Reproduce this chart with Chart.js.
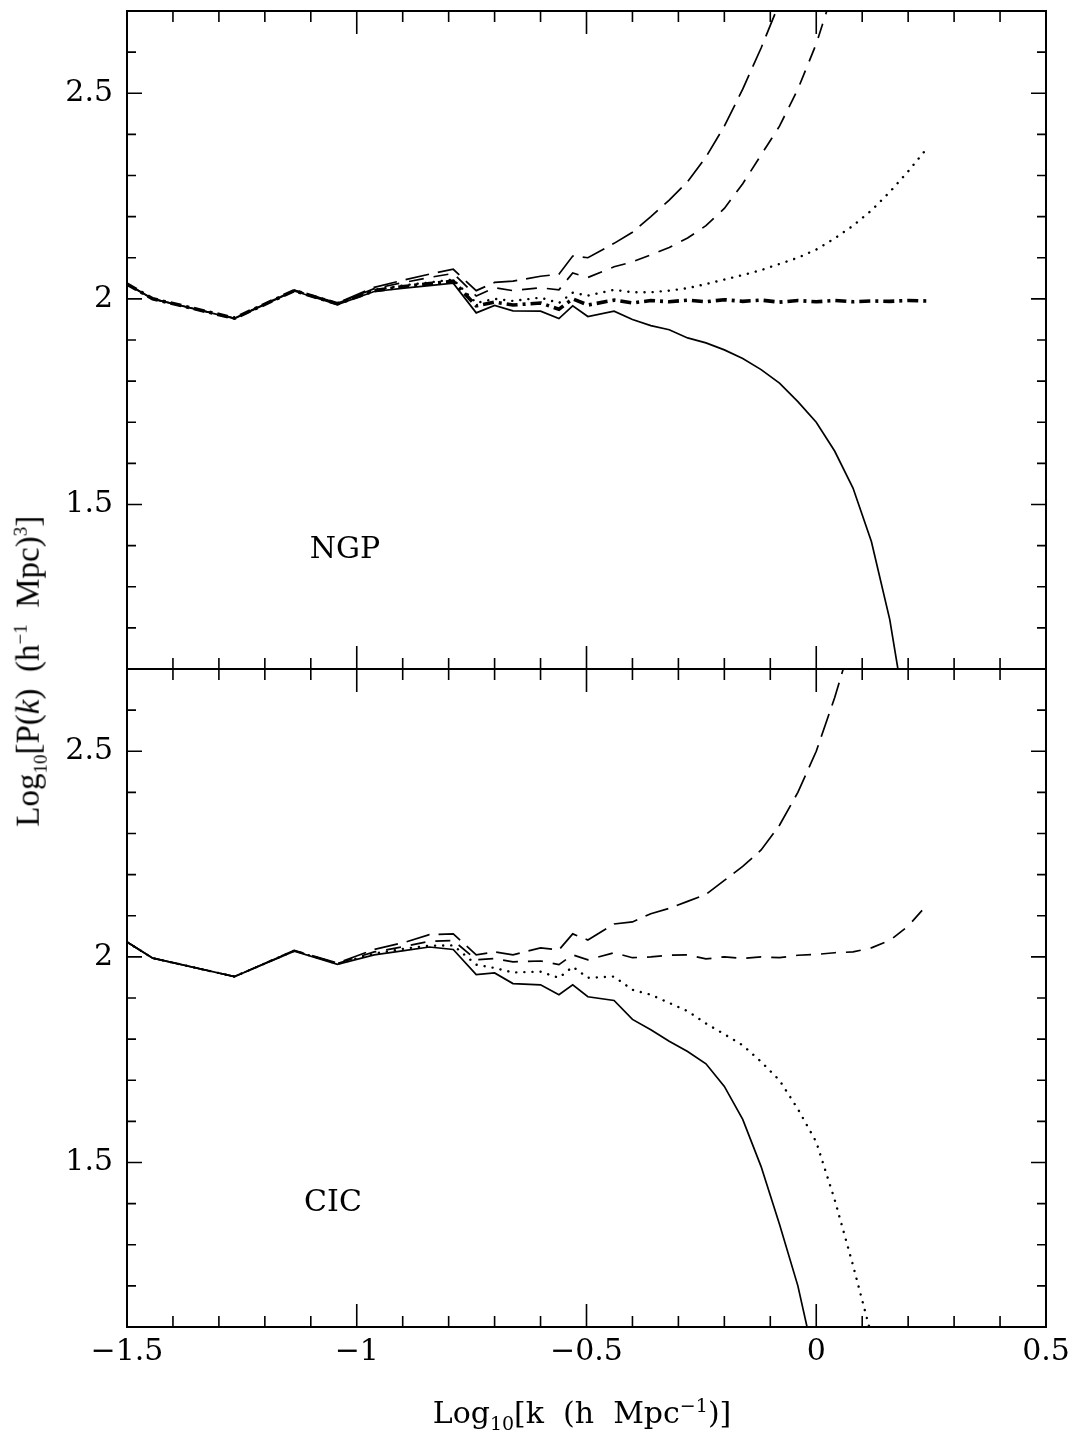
<!DOCTYPE html>
<html>
<head>
<meta charset="utf-8">
<script src="https://cdn.jsdelivr.net/npm/chart.js@4"></script>
<style>
  body { margin: 0; background: #fff; }
  #wrap { position: relative; width: 1075px; height: 1439px; overflow: hidden; font-family: "DejaVu Serif", serif; color: #000; }
  canvas { position: absolute; left: 0; }
  .lbl { position: absolute; font-size: 30px; white-space: nowrap; line-height: 1; }
  .lbl sub, .lbl sup { font-size: 19px; }
  #ytitle { left: -220px; width: 500px; top: 652px; text-align: center; transform: rotate(-90deg);
            font-family: "Liberation Serif", serif; font-size: 33px; }
</style>
</head>
<body>
<div id="wrap">
  <canvas id="top" width="1075" height="700" style="top:0"></canvas>
  <canvas id="bottom" width="1075" height="789" style="top:650px"></canvas>
  <div class="lbl" style="left:345px; top:548px; transform:translate(-50%,-50%)">NGP</div>
  <div class="lbl" style="left:333px; top:1201px; transform:translate(-50%,-50%)">CIC</div>
  <div class="lbl" id="ytitle">Log<sub>10</sub>[P(<i>k</i>)&nbsp; (h<sup>−1</sup>&nbsp; Mpc)<sup>3</sup>]</div>
  <div class="lbl" style="left:582px; top:1414px; transform:translate(-50%,-50%)">Log<sub>10</sub>[k&nbsp; (h&nbsp; Mpc<sup>−1</sup>)]</div>
</div>
<script>
// log10 k positions (shared by all curves)
const logK = [-1.5, -1.444, -1.266, -1.136, -1.042, -0.962, -0.897, -0.842, -0.79, -0.74,
  -0.70, -0.66, -0.60, -0.56, -0.53, -0.497, -0.44, -0.40, -0.36, -0.32,
  -0.28, -0.24, -0.20, -0.16, -0.12, -0.08, -0.04, 0.0, 0.04, 0.08,
  0.12, 0.16, 0.20, 0.24];

// NGP panel
const ngpSolid = [2.036, 2.000, 1.952, 2.019, 1.986, 2.018, 2.026, 2.032, 2.038, 1.966,
  1.984, 1.971, 1.970, 1.952, 1.983, 1.957, 1.970, 1.950, 1.935, 1.925,
  1.905, 1.893, 1.876, 1.855, 1.828, 1.795, 1.750, 1.700, 1.630, 1.540,
  1.410, 1.220, 0.950, null];
const ngpDotted = [2.036, 2.000, 1.953, 2.020, 1.988, 2.022, 2.033, 2.040, 2.047, 1.990,
  2.000, 1.995, 2.003, 1.990, 2.015, 2.008, 2.022, 2.016, 2.016, 2.020,
  2.026, 2.036, 2.047, 2.058, 2.070, 2.085, 2.100, 2.120, 2.147, 2.178,
  2.215, 2.260, 2.310, 2.365];
const ngpDashed = [2.036, 2.000, 1.953, 2.021, 1.989, 2.025, 2.040, 2.052, 2.062, 2.007,
  2.027, 2.020, 2.027, 2.022, 2.063, 2.052, 2.078, 2.090, 2.107, 2.125,
  2.148, 2.178, 2.220, 2.280, 2.350, 2.420, 2.510, 2.620, 2.760, null,
  null, null, null, null];
const ngpLongDashed = [2.036, 2.000, 1.953, 2.021, 1.990, 2.028, 2.046, 2.060, 2.072, 2.020,
  2.040, 2.043, 2.055, 2.060, 2.104, 2.100, 2.135, 2.162, 2.200, 2.240,
  2.285, 2.345, 2.420, 2.510, 2.610, 2.720, null, null, null, null,
  null, null, null, null];
const ngpDashDot = [2.036, 2.000, 1.953, 2.020, 1.988, 2.020, 2.030, 2.037, 2.043, 1.983,
  1.992, 1.985, 1.990, 1.975, 2.000, 1.985, 1.997, 1.990, 1.996, 1.993,
  1.997, 1.993, 1.998, 1.994, 1.997, 1.992, 1.996, 1.993, 1.996, 1.993,
  1.995, 1.994, 1.996, 1.995];

// CIC panel
const cicSolid = [2.036, 1.997, 1.952, 2.014, 1.982, 2.005, 2.015, 2.024, 2.018, 1.957,
  1.961, 1.935, 1.932, 1.908, 1.932, 1.903, 1.894, 1.848, 1.823, 1.795,
  1.770, 1.740, 1.685, 1.605, 1.490, 1.350, 1.200, 1.000, null, null,
  null, null, null, null];
const cicDotted = [2.036, 1.997, 1.952, 2.015, 1.983, 2.008, 2.020, 2.027, 2.028, 1.981,
  1.973, 1.962, 1.964, 1.949, 1.976, 1.949, 1.952, 1.920, 1.908, 1.888,
  1.868, 1.838, 1.812, 1.785, 1.745, 1.700, 1.630, 1.550, 1.410, 1.250,
  1.080, null, null, null];
const cicDashed = [2.036, 1.997, 1.952, 2.015, 1.984, 2.012, 2.025, 2.038, 2.040, 1.993,
  1.996, 1.988, 1.990, 1.981, 2.005, 1.993, 2.010, 1.998, 2.000, 2.004,
  2.005, 1.995, 2.000, 1.996, 2.000, 1.998, 2.004, 2.006, 2.010, 2.012,
  2.022, 2.040, 2.075, 2.125];
const cicLongDashed = [2.036, 1.997, 1.952, 2.016, 1.985, 2.018, 2.035, 2.054, 2.056, 2.005,
  2.012, 2.005, 2.022, 2.017, 2.056, 2.041, 2.080, 2.085, 2.105, 2.118,
  2.135, 2.152, 2.186, 2.220, 2.260, 2.320, 2.400, 2.500, 2.630, 2.780,
  null, null, null, null];

const xTicks = [-1.5, -1, -0.5, 0, 0.5];
const yTicks = [1.5, 2, 2.5];

Chart.defaults.font.family = '"DejaVu Serif", serif';
Chart.defaults.color = '#000';

function pts(arr) {
  return logK.map((k, i) => ({ x: k, y: arr[i] }));
}

const styles = {
  solid: { borderWidth: 1.7, borderDash: [] },
  dotted: { borderWidth: 2.4, borderDash: [0.1, 8], borderCapStyle: 'round' },
  dashed: { borderWidth: 1.7, borderDash: [15, 10] },
  longDashed: { borderWidth: 1.7, borderDash: [24, 9] },
  dashDot: { borderWidth: 3.6, borderDash: [11, 5, 3, 5] }
};

function ds(arr, style) {
  return Object.assign({
    data: pts(arr),
    borderColor: '#000',
    pointRadius: 0,
    fill: false,
    tension: 0,
    spanGaps: false
  }, styles[style]);
}

// frame and inward ticks on all four sides
const frameTicks = {
  id: 'frameTicks',
  afterDatasetsDraw(chart) {
    const { ctx, chartArea: a } = chart;
    const x = chart.scales.x, y = chart.scales.y;
    ctx.save();
    ctx.strokeStyle = '#000';
    ctx.lineWidth = 2;
    ctx.strokeRect(a.left, a.top, a.right - a.left, a.bottom - a.top);
    ctx.lineWidth = 1.6;
    ctx.beginPath();
    for (let i = 0; i <= 20; i++) {
      const px = x.getPixelForValue(-1.5 + i * 0.1);
      const len = i % 5 === 0 ? 23 : 11;
      ctx.moveTo(px, a.top); ctx.lineTo(px, a.top + len);
      ctx.moveTo(px, a.bottom); ctx.lineTo(px, a.bottom - len);
    }
    for (let i = 11; i <= 27; i++) {
      const py = y.getPixelForValue(i / 10);
      const len = i % 5 === 0 ? 15 : 9;
      ctx.moveTo(a.left, py); ctx.lineTo(a.left + len, py);
      ctx.moveTo(a.right, py); ctx.lineTo(a.right - len, py);
    }
    ctx.stroke();
    ctx.restore();
  }
};

function yScale() {
  return {
    min: 1.1, max: 2.7,
    afterBuildTicks: s => { s.ticks = yTicks.map(v => ({ value: v })); },
    afterFit: s => { s.width = 127; s.paddingTop = 0; s.paddingBottom = 0; },
    grid: { display: false, drawTicks: false },
    border: { display: false },
    ticks: { font: { size: 30 }, padding: 14, callback: v => String(v) }
  };
}

new Chart(document.getElementById('top'), {
  type: 'line',
  data: {
    datasets: [
      ds(ngpSolid, 'solid'),
      ds(ngpDotted, 'dotted'),
      ds(ngpDashed, 'dashed'),
      ds(ngpLongDashed, 'longDashed'),
      ds(ngpDashDot, 'dashDot')
    ]
  },
  options: {
    responsive: false,
    animation: false,
    devicePixelRatio: 1,
    layout: { padding: { top: 11, right: 29, bottom: 31, left: 0 } },
    plugins: { legend: { display: false }, tooltip: { enabled: false } },
    scales: {
      x: { type: 'linear', min: -1.5, max: 0.5, display: false },
      y: yScale()
    }
  },
  plugins: [frameTicks]
});

new Chart(document.getElementById('bottom'), {
  type: 'line',
  data: {
    datasets: [
      ds(cicSolid, 'solid'),
      ds(cicDotted, 'dotted'),
      ds(cicDashed, 'dashed'),
      ds(cicLongDashed, 'longDashed')
    ]
  },
  options: {
    responsive: false,
    animation: false,
    devicePixelRatio: 1,
    layout: { padding: { top: 19, right: 29, bottom: 0, left: 0 } },
    plugins: { legend: { display: false }, tooltip: { enabled: false } },
    scales: {
      x: {
        type: 'linear', min: -1.5, max: 0.5,
        afterBuildTicks: s => { s.ticks = xTicks.map(v => ({ value: v })); },
        afterFit: s => { s.height = 112; s.paddingLeft = 0; s.paddingRight = 0; },
        grid: { display: false, drawTicks: false },
        border: { display: false },
        ticks: {
          font: { size: 30 }, padding: 7, maxRotation: 0,
          callback: v => (v < 0 ? '\u2212' + String(-v) : String(v))
        }
      },
      y: yScale()
    }
  },
  plugins: [frameTicks]
});
</script>
</body>
</html>
